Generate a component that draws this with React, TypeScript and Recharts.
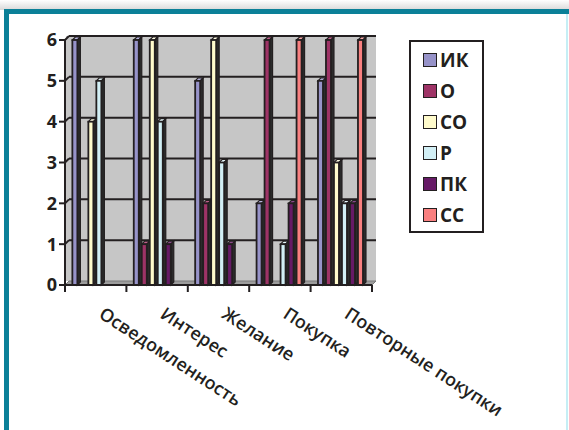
import { Bar, BarChart, CartesianGrid, XAxis, YAxis } from "recharts";

const stages = ["Осведомленность", "Интерес", "Желание", "Покупка", "Повторные покупки"];
const seriesNames = ["ИК", "О", "СО", "Р", "ПК", "СС"];
const ik = [6, 6, 5, 2, 5];
const o = [0, 1, 2, 6, 6];
const so = [4, 6, 6, 0, 3];
const r = [5, 4, 3, 1, 2];
const pk = [0, 1, 1, 2, 2];
const ss = [0, 0, 0, 6, 6];
const yTicks = [0, 1, 2, 3, 4, 5, 6];

const colors = ["#9793c9", "#9e3366", "#fffbcc", "#d2eff5", "#661a66", "#f98080"];
const capColors = ["#b9b6e0", "#c0608c", "#fffde4", "#e8f8fb", "#8a4a8a", "#fbaaaa"];

const data = stages.map((stage, i) => ({
  stage,
  "ИК": ik[i],
  "О": o[i],
  "СО": so[i],
  "Р": r[i],
  "ПК": pk[i],
  "СС": ss[i],
}));

const W = 569;
const H = 430;
const PLOT_LEFT = 65;
const PLOT_RIGHT = 372;
const PLOT_TOP = 40;
const PLOT_BOTTOM = 285;
const DEPTH = 4;
const band = (PLOT_RIGHT - PLOT_LEFT) / stages.length;
const FONT = "'Open Sans', 'Noto Sans', sans-serif";
const INK = "#231f20";

function Bar3D(props: any) {
  const { x, y, width, height, fill, cap } = props;
  if (!height || height <= 0) return null;
  const d = 3;
  const w = width - d;
  return (
    <g>
      <polygon points={`${x},${y} ${x + d},${y - d} ${x + w + d},${y - d} ${x + w},${y}`} fill={cap} stroke={INK} strokeWidth={1.2} />
      <polygon points={`${x + w},${y} ${x + w + d},${y - d} ${x + w + d},${y + height - d} ${x + w},${y + height}`} fill="#2b2b2b" stroke={INK} strokeWidth={1.2} />
      <rect x={x} y={y} width={w} height={height} fill={fill} stroke={INK} strokeWidth={1.8} />
    </g>
  );
}

function GridLine(props: any) {
  const { x2, y1 } = props;
  const isFloor = Math.abs(y1 - PLOT_BOTTOM) < 1;
  if (isFloor) {
    return (
      <polygon
        key={props.key}
        points={`${PLOT_LEFT},${y1} ${PLOT_LEFT + DEPTH},${y1 - DEPTH} ${x2},${y1 - DEPTH} ${x2 - DEPTH},${y1}`}
        fill="#9d9d9d"
        stroke="#7a7a7a"
        strokeWidth={1}
      />
    );
  }
  return (
    <g key={props.key}>
      <line x1={PLOT_LEFT} y1={y1} x2={PLOT_LEFT + DEPTH} y2={y1 - DEPTH} stroke={INK} strokeWidth={2} />
      <line x1={PLOT_LEFT + DEPTH} y1={y1 - DEPTH} x2={x2} y2={y1 - DEPTH} stroke={INK} strokeWidth={2} />
    </g>
  );
}

function YTick(props: any) {
  const { x, y, payload } = props;
  return (
    <g>
      <line x1={PLOT_LEFT - 6} y1={y} x2={PLOT_LEFT} y2={y} stroke={INK} strokeWidth={2} />
      <text x={x - 8} y={y} dy="0.36em" textAnchor="end" fontFamily={FONT} fontWeight={700} fontSize={18} fill={INK}>
        {payload.value}
      </text>
    </g>
  );
}

function XTick(props: any) {
  const { x, y, payload, index } = props;
  const left = x - band / 2;
  const tx = x + 2;
  const ty = y + 32;
  return (
    <g>
      <line x1={left} y1={y} x2={left} y2={y + 7} stroke={INK} strokeWidth={2} />
      {index === stages.length - 1 && (
        <line x1={left + band} y1={y} x2={left + band} y2={y + 7} stroke={INK} strokeWidth={2} />
      )}
      <text x={tx} y={ty} transform={`rotate(33, ${tx}, ${ty})`} textAnchor="start" fontFamily={FONT} fontWeight={600} fontSize={18} fill={INK}>
        {payload.value}
      </text>
    </g>
  );
}

function LegendBox() {
  return (
    <div
      style={{
        position: "absolute",
        left: 409,
        top: 40,
        width: 75,
        height: 193,
        border: `2px solid ${INK}`,
        boxSizing: "border-box",
        background: "#fff",
        display: "flex",
        flexDirection: "column",
        paddingTop: 2,
      }}
    >
      {seriesNames.map((name, i) => (
        <div key={name} style={{ display: "flex", alignItems: "center", height: 31 }}>
          <span style={{ width: 12, height: 12, background: colors[i], border: `1.5px solid ${INK}`, marginLeft: 12, marginRight: 3 }} />
          <span style={{ fontFamily: FONT, fontWeight: 700, fontSize: 19, color: INK, lineHeight: "20px" }}>{name}</span>
        </div>
      ))}
    </div>
  );
}

export default function App() {
  return (
    <div style={{ position: "absolute", left: 0, top: 0, width: W, height: H, background: "#fff", overflow: "hidden" }}>
      <div style={{ position: "absolute", left: 0, top: 0, width: W, height: 10, background: "linear-gradient(#ffffff, #d9d9d9)" }} />
      <div style={{ position: "absolute", left: 4, top: 9, width: W - 4, height: 5, background: "#0b8098" }} />
      <div style={{ position: "absolute", left: 4, top: 9, width: 5, height: H - 9, background: "#0b8098" }} />
      <div style={{ position: "absolute", left: 566, top: 14, width: 2, height: H - 14, background: "#c6eef5" }} />
      <div style={{ position: "absolute", left: 0, top: 0 }}>
        <BarChart
          width={W}
          height={H}
          data={data}
          margin={{ top: PLOT_TOP, right: W - PLOT_RIGHT, left: 0, bottom: H - PLOT_BOTTOM - 100 }}
          barCategoryGap="12%"
          barGap={0}
        >
          <CartesianGrid
            x={PLOT_LEFT + 1}
            y={PLOT_TOP - DEPTH}
            width={PLOT_RIGHT - PLOT_LEFT + DEPTH - 1}
            height={PLOT_BOTTOM - PLOT_TOP}
            fill="#c6c6c6"
            fillOpacity={1}
            vertical={false}
            horizontal={GridLine}
          />
          <XAxis
            dataKey="stage"
            height={100}
            interval={0}
            tickSize={0}
            tickMargin={0}
            tickLine={false}
            axisLine={{ stroke: INK, strokeWidth: 2 }}
            tick={XTick}
          />
          <YAxis
            width={PLOT_LEFT}
            domain={[0, 6]}
            ticks={yTicks}
            interval={0}
            tickSize={0}
            tickMargin={0}
            tickLine={false}
            axisLine={{ stroke: INK, strokeWidth: 2 }}
            tick={YTick}
          />
          {seriesNames.map((name, i) => (
            <Bar
              key={name}
              dataKey={name}
              fill={colors[i]}
              isAnimationActive={false}
              shape={(p: any) => <Bar3D {...p} cap={capColors[i]} />}
            />
          ))}
        </BarChart>
      </div>
      <LegendBox />
    </div>
  );
}
